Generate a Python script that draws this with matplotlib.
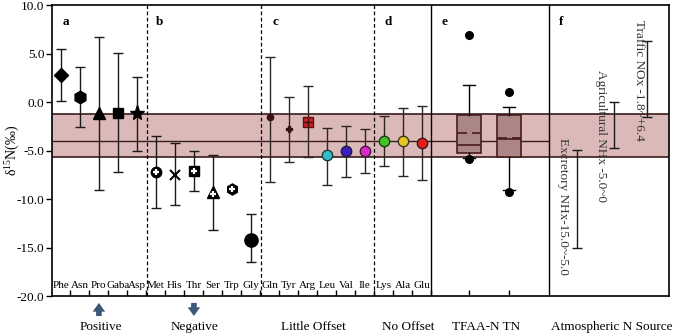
import numpy as np
import matplotlib
matplotlib.use('Agg')
import matplotlib.pyplot as plt

plt.rcParams['font.family'] = ['Liberation Serif', 'DejaVu Serif']
plt.rcParams['mathtext.fontset'] = 'custom'
plt.rcParams['mathtext.rm'] = 'Liberation Serif'

# Amino acid d15N means and error bar ends
amino = ['Phe', 'Asn', 'Pro', 'Gaba', 'Asp',
         'Met', 'His', 'Thr', 'Ser', 'Trp', 'Gly',
         'Gln', 'Tyr', 'Arg', 'Leu', 'Val', 'Ile',
         'Lys', 'Ala', 'Glu']
mean = [2.8, 0.55, -1.1, -1.15, -1.15,
        -7.2, -7.5, -7.1, -9.25, -9.0, -14.2,
        -1.5, -2.8, -2.05, -5.5, -5.0, -5.0,
        -4.0, -4.05, -4.2]
upper = [5.45, 3.6, 6.75, 5.05, 2.6,
         -3.5, -4.2, -5.0, -5.45, np.nan, -11.5,
         4.65, 0.5, 1.7, -2.65, -2.45, -2.8,
         -1.45, -0.6, -0.4]
lower = [0.15, -2.6, -9.1, -7.25, -5.0,
         -10.9, -10.6, -9.2, -13.2, np.nan, -16.5,
         -8.2, -6.2, -5.7, -8.5, -7.75, -7.35,
         -6.6, -7.6, -8.05]

# boxplots for TFAA-N and TN
box_names = ['TFAA-N', 'TN']
box_q3 = [-1.37, -1.37]
box_q1 = [-5.2, -5.7]
box_med = [-4.43, -3.8]
box_mean = [-3.15, -3.72]
box_whishi = [1.8, -0.55]
box_whislo = [-5.75, -9.1]
box_fly_hi = [6.95, 1.0]
box_fly_lo = [-5.9, -9.25]

# atmospheric N sources
src_names = ['Excretory NHx-15.0~-5.0', 'Agricultural NHx -5.0~0', 'Traffic NOx -1.8~+6.4']
src_hi = [-4.9, 0.0, 6.25]
src_lo = [-15.05, -4.7, -1.5]

groups = ['Positive', 'Negative', 'Little Offset', 'No Offset', 'TFAA-N TN', 'Atmospheric N Source']

band_top, band_mid, band_bot = -1.25, -4.0, -5.7

fig = plt.figure(figsize=(6.75, 3.35), dpi=100)
ax = fig.add_axes([0.077, 0.116, 0.914, 0.869])
ax.set_xlim(0.53, 33.0)
ax.set_ylim(-20, 10)

ax.axhspan(band_bot, band_top, color='#dbb9b9', zorder=0, lw=0)
ax.axhline(band_top, color='#3a1c1c', lw=1.2, zorder=1)
ax.axhline(band_bot, color='#3a1c1c', lw=1.2, zorder=1)
ax.hlines(band_mid, 0.53, 26.68, color='#3a1c1c', lw=1.0, zorder=1)

# marker styles per amino acid
styles = [
    dict(marker='D', ms=7, mfc='k', mec='k'),
    dict(marker='h', ms=9, mfc='k', mec='k'),
    dict(marker='^', ms=9, mfc='k', mec='k'),
    dict(marker='s', ms=7, mfc='k', mec='k'),
    dict(marker='*', ms=11, mfc='k', mec='k'),
    dict(marker='o', ms=7.5, mfc='k', mec='k'),
    dict(marker='x', ms=7, mfc='k', mec='k', mew=1.5),
    dict(marker='s', ms=7, mfc='k', mec='k'),
    dict(marker='^', ms=8.5, mfc='k', mec='k'),
    dict(marker='h', ms=8, mfc='k', mec='k'),
    dict(marker='o', ms=9.5, mfc='k', mec='k'),
    dict(marker='o', ms=4.5, mfc='#3a1010', mec='#3a1010'),
    dict(marker='P', ms=5, mfc='#3a1010', mec='#3a1010'),
    dict(marker='s', ms=7.5, mfc='#cc2020', mec='#5a1010'),
    dict(marker='o', ms=7.5, mfc='#35bccb', mec='#1f3a3a'),
    dict(marker='o', ms=7.5, mfc='#3c1fc2', mec='#1f1a3a'),
    dict(marker='o', ms=7.5, mfc='#e028c8', mec='#3a1a3a'),
    dict(marker='o', ms=7.5, mfc='#40c424', mec='#1f3a1a'),
    dict(marker='o', ms=7.5, mfc='#e8c424', mec='#3a3a1a'),
    dict(marker='o', ms=7.5, mfc='#e41c1c', mec='#3a1a1a'),
]
cross = {'Met': 5, 'Thr': 5, 'Ser': 4.5, 'Trp': 5, 'Arg': 6}

x_amino = np.arange(1, len(amino) + 1)
for xi, name, m, hi, lo, st in zip(x_amino, amino, mean, upper, lower, styles):
    ecol = '#1a1a1a' if xi <= 11 else '#2e2424'
    if not np.isnan(hi):
        ax.errorbar(xi, m, yerr=[[m - lo], [hi - m]], fmt='none', ecolor=ecol,
                    elinewidth=1.0, capsize=3.3, capthick=1.0, zorder=3)
    ax.plot(xi, m, ls='none', zorder=4, **st)
    if name in cross:
        col = '#3a1010' if name == 'Arg' else 'white'
        ax.plot(xi, m - (0.25 if name == 'Ser' else 0), marker='+', ms=cross[name],
                mew=1.6 if name != 'Arg' else 1.0, color=col, ls='none', zorder=5)

# boxplots
x_box = [22.47, 24.58]
stats = []
for i in range(2):
    stats.append(dict(med=box_med[i], q1=box_q1[i], q3=box_q3[i], mean=box_mean[i],
                      whislo=box_whislo[i], whishi=box_whishi[i],
                      fliers=[box_fly_hi[i], box_fly_lo[i]]))
ax.bxp(stats, positions=x_box, widths=1.27, patch_artist=True, showmeans=True,
       meanline=True, manage_ticks=False,
       boxprops=dict(facecolor='#aa8686', edgecolor='#4a1c1c', lw=1.2),
       medianprops=dict(color='#4a1c1c', lw=1.2),
       meanprops=dict(color='#4a1c1c', lw=1.2, ls=(0, (6, 3))),
       whiskerprops=dict(color='k', lw=1.0),
       capprops=dict(color='k', lw=1.0),
       flierprops=dict(marker='o', mfc='k', mec='k', ms=5.5))
for b in ax.patches[-2:]:
    b.set_zorder(2)

# atmospheric source ranges
x_src = [28.16, 30.1, 31.84]
x_txt = [27.4, 29.4, 31.4]
y_txt = [-3.7, 3.3, 8.45]
for xs, xt, yt, hi, lo, name in zip(x_src, x_txt, y_txt, src_hi, src_lo, src_names):
    ax.errorbar(xs, (hi + lo) / 2, yerr=(hi - lo) / 2, fmt='none', ecolor='#1a1a1a',
                elinewidth=1.0, capsize=3.3, capthick=1.0, zorder=3)
    ax.text(xt, yt, name, rotation=270, ha='center', va='top', fontsize=9.5, color='#333333')

# dividers
for xd in [5.53, 11.53, 17.5]:
    ax.axvline(xd, color='k', lw=0.9, ls=(0, (3, 2)), zorder=2)
for xd in [20.5, 26.68]:
    ax.axvline(xd, color='k', lw=1.0, zorder=2)

for xl, lab in zip([1.27, 6.2, 12.27, 18.2, 21.2, 27.3], 'abcdef'):
    ax.text(xl, 8.2, lab, fontsize=9.5, fontweight='bold', ha='center', va='center')

for xi, name in zip(x_amino, amino):
    ax.text(xi, -18.95, name, fontsize=8.0, ha='center', va='center')

# bottom group labels
for xg, g in zip([3.1, 8.05, 14.3, 19.3, 23.4, 30.0], groups):
    ax.text(xg, -23.2, g, fontsize=9.5, ha='center', va='center', clip_on=False)

arrow = dict(arrowstyle='simple,head_width=1.0,head_length=0.7,tail_width=0.45',
             color='#3b5878', lw=0, mutation_scale=9, shrinkA=0, shrinkB=0)
ax.annotate('', xy=(3.0, -20.7), xytext=(3.0, -22.05), annotation_clip=False,
            arrowprops=arrow)
ax.annotate('', xy=(8.0, -22.05), xytext=(8.0, -20.7), annotation_clip=False,
            arrowprops=arrow)

ax.set_yticks([10, 5, 0, -5, -10, -15, -20])
ax.set_yticklabels(['%.1f' % v for v in [10, 5, 0, -5, -10, -15, -20]], fontsize=9.5)
ax.tick_params(axis='y', direction='out', length=4, width=1.0, pad=1.5)
ax.set_xticks(list(np.arange(1.5, 20.6, 1.0)) + x_box)
ax.set_xticklabels([])
ax.tick_params(axis='x', direction='in', length=4, width=1.0)
ax.set_ylabel('δ$^{15}$N(‰)', fontsize=10)
ax.yaxis.set_label_coords(-0.05, 0.5)
for s in ax.spines.values():
    s.set_linewidth(1.2)

fig.savefig('out.png', dpi=100)
